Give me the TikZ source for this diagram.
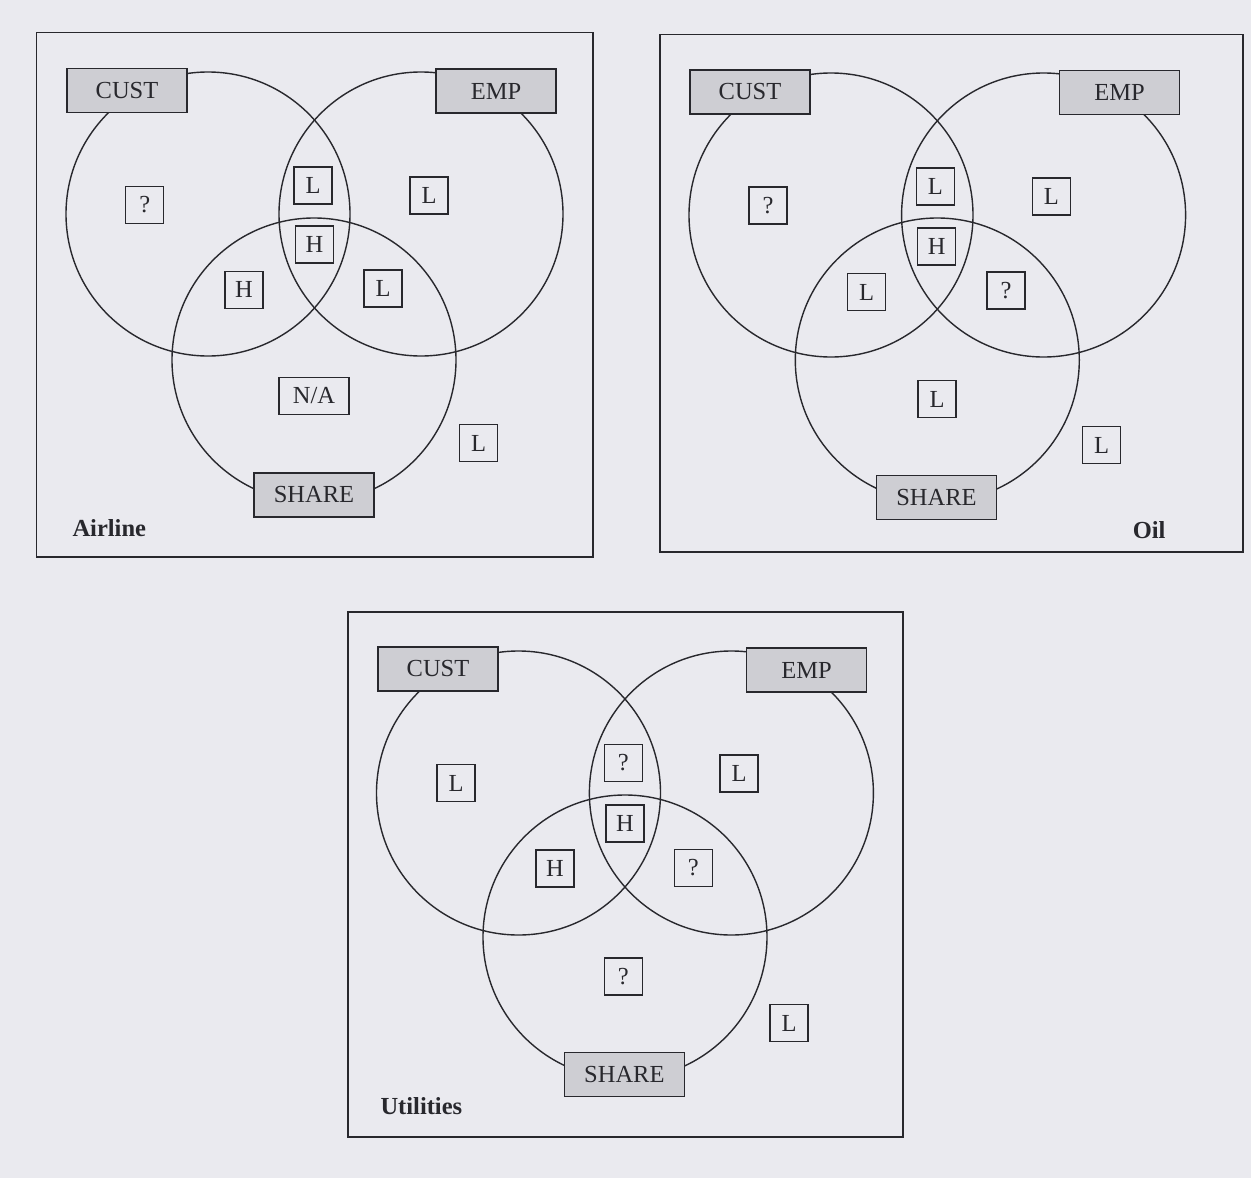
\documentclass[tikz,border=0pt]{standalone}
\usepackage{fontspec}
\setmainfont{Liberation Serif}
\usetikzlibrary{positioning}
\definecolor{paper}{RGB}{234,234,239}
\definecolor{shade}{RGB}{206,206,211}
\definecolor{ink}{RGB}{40,40,45}

\begin{document}
\begin{tikzpicture}[x=1pt, y=-1pt, every node/.style={font=\fontsize{24.5}{28}\selectfont, text=ink},
  ring/.style={draw=ink, line width=1.4pt},
  frame/.style={draw=ink, line width=1.8pt},
  setbox/.style={draw=ink, fill=shade, line width=1.6pt, minimum width=120pt, minimum height=44pt, inner sep=0pt},
  grade/.style={draw=ink, fill=paper, line width=1.3pt, minimum width=38pt, minimum height=37pt, inner sep=0pt},
  panel/.style={font=\fontsize{24.5}{28}\selectfont\bfseries}]
\fill[paper] (0,0) rectangle (1251,1178);

% Airline
\draw[frame] (36.5,32.5) rectangle (593,557);
\draw[ring] (208,214) circle[radius=142pt];
\draw[ring] (421,214) circle[radius=142pt];
\draw[ring] (314,360) circle[radius=142pt];
\node[setbox] (a-cust)  at (127,90.5) {CUST};
\node[setbox] (a-emp)   at (496,91)   {EMP};
\node[setbox] (a-share) at (314,495)  {SHARE};
\node[grade] (a-c)   at (144.7,204.7) {?};
\node[grade] (a-ce)  at (313,185.6)   {L};
\node[grade] (a-e)   at (429,195.6)   {L};
\node[grade] (a-all) at (314.5,244.6) {H};
\node[grade] (a-cs)  at (244,289.7)   {H};
\node[grade] (a-es)  at (383,288.6)   {L};
\node[grade, minimum width=70pt] (a-s) at (314,396) {N/A};
\node[grade] (a-out) at (478.6,443)   {L};
\node[panel, anchor=west] (a-name) at (69,528) {Airline};

% Oil
\draw[frame] (659.6,34.5) rectangle (1243,552);
\draw[ring] (831,215) circle[radius=142pt];
\draw[ring] (1043.6,215) circle[radius=142pt];
\draw[ring] (937.3,360) circle[radius=142pt];
\node[setbox] (o-cust)  at (750,92)      {CUST};
\node[setbox] (o-emp)   at (1119.5,92.6) {EMP};
\node[setbox] (o-share) at (936.5,497.3) {SHARE};
\node[grade] (o-c)   at (768,205.6)    {?};
\node[grade] (o-ce)  at (935.4,186.6)  {L};
\node[grade] (o-e)   at (1051.4,196.4) {L};
\node[grade] (o-all) at (936.7,246.6)  {H};
\node[grade] (o-cs)  at (866.6,292)    {L};
\node[grade] (o-es)  at (1006,290.4)   {?};
\node[grade] (o-s)   at (937,399)      {L};
\node[grade] (o-out) at (1101.6,445)   {L};
\node[panel, anchor=east] (o-name) at (1169,530) {Oil};

% Utilities
\draw[frame] (348,612) rectangle (903,1137);
\draw[ring] (518.5,793) circle[radius=142pt];
\draw[ring] (731.4,793) circle[radius=142pt];
\draw[ring] (625,937) circle[radius=142pt];
\node[setbox] (u-cust)  at (438,669)      {CUST};
\node[setbox] (u-emp)   at (806.5,670)    {EMP};
\node[setbox] (u-share) at (624.4,1074.4) {SHARE};
\node[grade] (u-c)   at (456,783)     {L};
\node[grade] (u-ce)  at (623.3,763)   {?};
\node[grade] (u-e)   at (739,773.4)   {L};
\node[grade] (u-all) at (625,823.6)   {H};
\node[grade] (u-cs)  at (555,868.6)   {H};
\node[grade] (u-es)  at (693.4,868)   {?};
\node[grade] (u-s)   at (623.3,976.6) {?};
\node[grade] (u-out) at (789,1023)    {L};
\node[panel, anchor=west] (u-name) at (377,1106) {Utilities};
\end{tikzpicture}
\end{document}
